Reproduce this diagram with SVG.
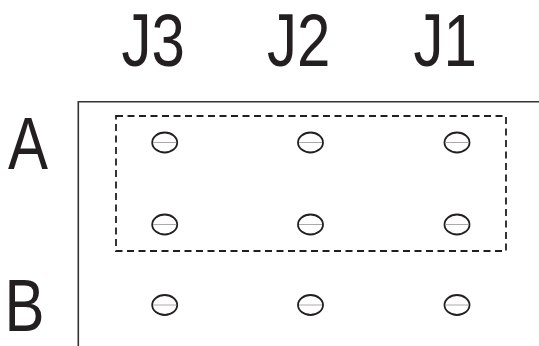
<svg xmlns="http://www.w3.org/2000/svg" width="539" height="346" viewBox="0 0 539 346">
<style>
.lbl{font-family:"Liberation Sans",Arial,sans-serif;font-size:75px;fill:#231f20}
.frame{fill:none;stroke:#333;stroke-width:1.6}
.dash{fill:none;stroke:#231f20;stroke-width:1.8;stroke-dasharray:7 4.5}
.hole ellipse{fill:#fff;stroke:#231f20;stroke-width:1.8}
.hole line{stroke:#aaa;stroke-width:1}
</style>
<defs>
<g id="hole" class="hole"><ellipse cx="0" cy="0" rx="12.5" ry="10"/><line x1="-11.5" y1="0" x2="11.5" y2="0"/></g>
</defs>
<g id="labels">
<text class="lbl" x="121.5" y="65.7" textLength="63.4" lengthAdjust="spacingAndGlyphs">J3</text>
<text class="lbl" x="267" y="65.7" textLength="63.4" lengthAdjust="spacingAndGlyphs">J2</text>
<text class="lbl" x="413.5" y="65.7" textLength="63.4" lengthAdjust="spacingAndGlyphs">J1</text>
<text class="lbl" x="8" y="169" textLength="40" lengthAdjust="spacingAndGlyphs">A</text>
<text class="lbl" x="4.5" y="330.7" textLength="40" lengthAdjust="spacingAndGlyphs">B</text>
</g>
<g id="frame"><path class="frame" d="M78.3 346 V101.7 H539"/></g>
<g id="groupA"><rect class="dash" x="116" y="116" width="390" height="135"/></g>
<g id="holes">
<use href="#hole" x="164.7" y="142.5"/>
<use href="#hole" x="310.5" y="142.5"/>
<use href="#hole" x="457" y="142.5"/>
<use href="#hole" x="164.7" y="224.5"/>
<use href="#hole" x="310.5" y="224.5"/>
<use href="#hole" x="457" y="224.5"/>
<use href="#hole" x="164.7" y="305"/>
<use href="#hole" x="310.5" y="305"/>
<use href="#hole" x="457" y="305"/>
</g>
</svg>
